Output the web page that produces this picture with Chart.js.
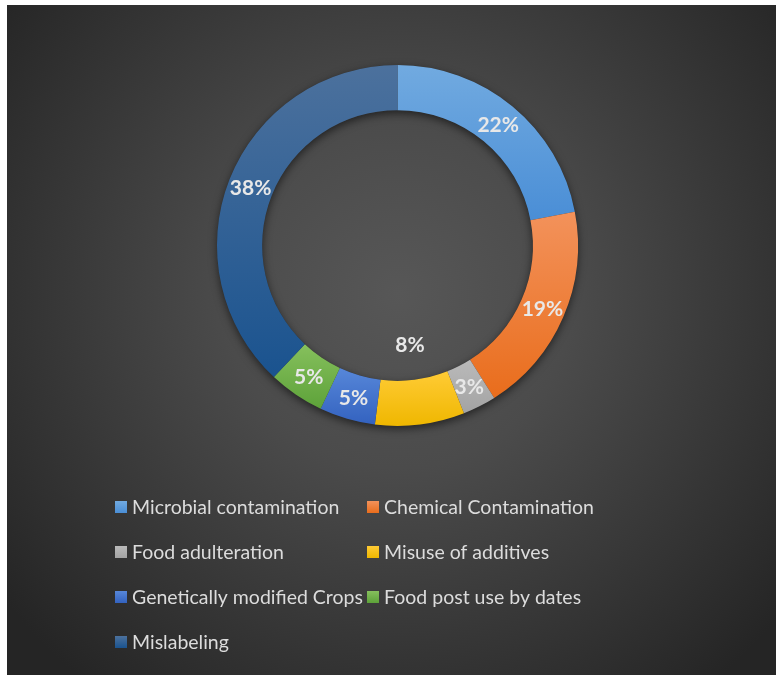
<!DOCTYPE html>
<html>
<head>
<meta charset="utf-8">
<script src="https://cdn.jsdelivr.net/npm/chart.js@4.4.1/dist/chart.umd.min.js"></script>
<style>
  html, body { margin: 0; padding: 0; background: #ffffff; }
  #wrap { position: absolute; left: 7px; top: 5px; width: 769px; height: 670px; }
</style>
</head>
<body>
<div id="wrap"><canvas id="foodChart" width="769" height="670"></canvas></div>
<script>
// Anteile der Problemfelder (in %)
const categories = [
    "Microbial contamination",
    "Chemical Contamination",
    "Food adulteration",
    "Misuse of additives",
    "Genetically modified Crops",
    "Food post use by dates",
    "Mislabeling"
];
const shares = [22, 19, 3, 8, 5, 5, 38];

// Farbverlauf je Segment: oben hell, unten kräftig
const colorsTop = ["#71aae0", "#f3925b", "#bababa", "#ffcb35", "#5787d9", "#86c05d", "#4c719d"];
const colorsBottom = ["#4a8ed6", "#e96d1c", "#a3a3a3", "#efb700", "#3362bf", "#5da239", "#1a538f"];
// Position der Beschriftung relativ zur Ringmitte (1 = Mitte des Rings)
const labelRadius = [1, 1, 1, 0.63, 1, 1, 1];

const total = shares.reduce((a, b) => a + b, 0);

// Vertikale Ausdehnung eines Ringsegments bestimmen
function sliceExtent(index, area) {
    const cx = (area.left + area.right) / 2;
    const cy = (area.top + area.bottom) / 2;
    const outer = Math.min(area.width, area.height) / 2;
    const inner = outer * 0.75;
    let before = 0;
    for (let i = 0; i < index; i++) before += shares[i];
    const a0 = -Math.PI / 2 + before / total * 2 * Math.PI;
    const a1 = a0 + shares[index] / total * 2 * Math.PI;
    const ys = [];
    [inner, outer].forEach((r) => {
        ys.push(cy + r * Math.sin(a0), cy + r * Math.sin(a1));
    });
    // Scheitelpunkte oben / unten mitnehmen
    [-Math.PI / 2, Math.PI / 2, 1.5 * Math.PI].forEach((a) => {
        if (a > a0 && a < a1) ys.push(cy + outer * Math.sin(a));
    });
    return [Math.min(...ys), Math.max(...ys)];
}

function sliceGradient(context) {
    const chart = context.chart;
    const area = chart.chartArea;
    const i = context.dataIndex;
    if (!area) return colorsBottom[i];
    const [y0, y1] = sliceExtent(i, area);
    const g = chart.ctx.createLinearGradient(0, y0, 0, y1);
    g.addColorStop(0, colorsTop[i]);
    g.addColorStop(1, colorsBottom[i]);
    return g;
}

// Dunkler Hintergrund mit hellem Zentrum
const backgroundPlugin = {
    id: "panelBackground",
    beforeDraw(chart) {
        const ctx = chart.ctx;
        const w = chart.width, h = chart.height;
        ctx.save();
        const g = ctx.createRadialGradient(w * 0.51, h * 0.43, 0, w * 0.51, h * 0.43, 500);
        g.addColorStop(0, "#575757");
        g.addColorStop(0.35, "#4b4b4b");
        g.addColorStop(1, "#252525");
        ctx.fillStyle = g;
        ctx.fillRect(0, 0, w, h);
        ctx.restore();
    }
};

// Schatten unter dem Ring
const ringShadowPlugin = {
    id: "ringShadow",
    beforeDatasetsDraw(chart) {
        const arc = chart.getDatasetMeta(0).data[0];
        if (!arc) return;
        const ctx = chart.ctx;
        ctx.save();
        ctx.beginPath();
        ctx.arc(arc.x, arc.y, arc.outerRadius, 0, Math.PI * 2);
        ctx.arc(arc.x, arc.y, arc.innerRadius, 0, Math.PI * 2, true);
        ctx.closePath();
        ctx.shadowColor = "rgba(0,0,0,0.55)";
        ctx.shadowBlur = 9;
        ctx.shadowOffsetY = 3;
        ctx.fillStyle = "#333333";
        ctx.fill("evenodd");
        ctx.restore();
    }
};

// Prozentwerte auf den Segmenten
const valueLabelPlugin = {
    id: "valueLabels",
    afterDatasetsDraw(chart) {
        const ctx = chart.ctx;
        const meta = chart.getDatasetMeta(0);
        ctx.save();
        ctx.font = "bold 21px Lato, 'Open Sans', sans-serif";
        ctx.fillStyle = "#e8e8e8";
        ctx.textAlign = "center";
        ctx.textBaseline = "middle";
        meta.data.forEach((arc, i) => {
            const mid = (arc.startAngle + arc.endAngle) / 2;
            const r = (arc.innerRadius + arc.outerRadius) / 2 * labelRadius[i];
            const text = Math.round(shares[i] / total * 100) + "%";
            ctx.fillText(text, arc.x + r * Math.cos(mid), arc.y + r * Math.sin(mid) + 1);
        });
        ctx.restore();
    }
};

// Legende in zwei Spalten unter dem Diagramm
const gridLegendPlugin = {
    id: "gridLegend",
    afterDraw(chart, args, opts) {
        const ctx = chart.ctx;
        ctx.save();
        ctx.font = opts.font;
        ctx.textBaseline = "middle";
        categories.forEach((name, i) => {
            const col = i % 2;
            const row = Math.floor(i / 2);
            const x = opts.columns[col];
            const y = opts.top + row * opts.rowGap;
            const g = ctx.createLinearGradient(0, y - 6, 0, y + 6);
            g.addColorStop(0, colorsTop[i]);
            g.addColorStop(1, colorsBottom[i]);
            ctx.fillStyle = g;
            ctx.fillRect(x, y - 6, 12, 12);
            ctx.fillStyle = "#dcdcdc";
            ctx.fillText(name, x + 17, y + 1);
        });
        ctx.restore();
    }
};

const ctx = document.getElementById("foodChart");
const foodChart = new Chart(ctx, {
    type: "doughnut",
    data: {
        labels: categories,
        datasets: [{
            data: shares,
            backgroundColor: sliceGradient,
            borderWidth: 0,
            hoverOffset: 0,
            offset: 0
        }]
    },
    options: {
        responsive: false,
        animation: false,
        cutout: "75%",
        layout: {
            padding: { top: 60, bottom: 249, left: 12, right: 0 }
        },
        plugins: {
            legend: { display: false },
            tooltip: { enabled: false },
            gridLegend: {
                columns: [108, 360],
                top: 502,
                rowGap: 45,
                font: "19.5px Lato, 'Open Sans', sans-serif"
            }
        }
    },
    plugins: [backgroundPlugin, ringShadowPlugin, valueLabelPlugin, gridLegendPlugin]
});
</script>
</body>
</html>
